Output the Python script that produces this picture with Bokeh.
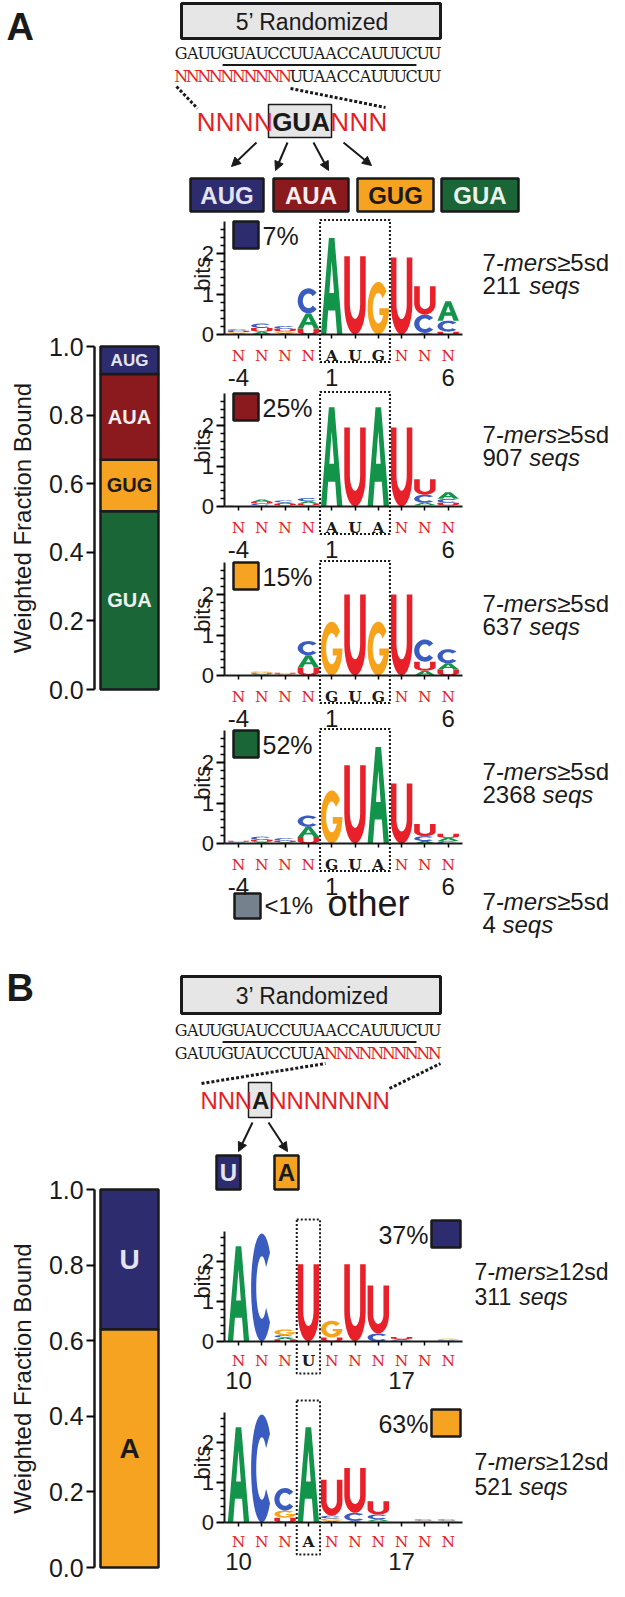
import numpy as np
from bokeh.plotting import figure
from bokeh.models import (Range1d, LinearAxis, FixedTicker, PrintfTickFormatter,
                          ColumnDataSource, Arrow, NormalHead)
from bokeh.core.properties import value
from bokeh.embed import file_html
from bokeh.resources import INLINE

# ======================= DATA =======================
A_CODONS = ["GUA", "GUG", "AUA", "AUG"]          # stacked bottom -> top
A_FRACTIONS = [0.52, 0.15, 0.25, 0.08]
B_BASES = ["A", "U"]
B_FRACTIONS = [0.63, 0.37]
BAR_TICKS = [0.0, 0.2, 0.4, 0.6, 0.8, 1.0]
BAR_AXIS_LABEL = "Weighted Fraction Bound"

SEQ_WT = "GAUUGUAUCCUUAACCAUUUCUU"
SEQ_5R = "NNNNNNNNNNUUAACCAUUUCUU"
SEQ_3R = "GAUUGUAUCCUUANNNNNNNNNN"
CORE_5R = "NNNNGUANNN"
CORE_3R = "NNNANNNNNNN"
A_VARIANTS = ["AUG", "AUA", "GUG", "GUA"]
B_VARIANTS = ["U", "A"]

A_TICK_LABELS = {0: "-4", 4: "1", 9: "6"}
B_TICK_LABELS = {0: "10", 7: "17"}
A_PERCENTS = ["7%", "25%", "15%", "52%"]
A_SEQS = ["211", "907", "637", "2368"]
A_THRESH = "5"
OTHER_PERCENT = "<1%"
OTHER_SEQS = "4"
B_PERCENTS = ["37%", "63%"]
B_SEQS = ["311", "521"]
B_THRESH = "12"

# sequence logos: per position, stacked letters (letter, bits) bottom -> top
LOGO_AUG = [
    [("A", .03), ("G", .03), ("U", .03), ("C", .04)],
    [("A", .07), ("U", .09), ("C", .11)],
    [("A", .04), ("G", .04), ("U", .06), ("C", .07)],
    [("U", .15), ("A", .37), ("C", .62)],
    [("A", 2.38)],
    [("U", 1.93)],
    [("G", 1.30)],
    [("U", 1.90)],
    [("A", .04), ("C", .45), ("U", .70)],
    [("U", .07), ("C", .27), ("A", .48)],
]
LOGO_AUA = [
    [("A", .01), ("C", .01)],
    [("G", .03), ("C", .04), ("U", .04), ("A", .06)],
    [("G", .03), ("U", .03), ("A", .04), ("C", .05)],
    [("G", .03), ("U", .04), ("A", .06), ("C", .08)],
    [("A", 2.45)],
    [("U", 1.95)],
    [("A", 2.45)],
    [("U", 1.95)],
    [("G", .04), ("A", .05), ("C", .20), ("U", .38)],
    [("G", .03), ("U", .06), ("C", .10), ("A", .16)],
]
LOGO_GUG = [
    [("A", .01)],
    [("C", .02), ("A", .02), ("U", .03), ("G", .03)],
    [("C", .02), ("G", .02), ("U", .03)],
    [("U", .20), ("A", .30), ("C", .35)],
    [("G", 1.33)],
    [("U", 2.00)],
    [("G", 1.33)],
    [("U", 2.00)],
    [("A", .12), ("U", .22), ("C", .55)],
    [("U", .15), ("A", .15), ("C", .35)],
]
LOGO_GUA = [
    [("A", .02), ("C", .02), ("U", .03)],
    [("A", .04), ("U", .05), ("C", .08)],
    [("A", .03), ("U", .04), ("C", .06)],
    [("U", .16), ("A", .25), ("C", .28)],
    [("G", 1.31)],
    [("U", 1.93)],
    [("A", 2.38)],
    [("U", 1.48)],
    [("A", .06), ("C", .12), ("U", .30)],
    [("C", .06), ("A", .08), ("U", .10)],
]
LOGO_U = [
    [("A", 2.38)],
    [("C", 2.70)],
    [("U", .05), ("A", .05), ("C", .06), ("G", .14)],
    [("U", 1.93)],
    [("U", .10), ("G", .42)],
    [("U", 1.93)],
    [("C", .20), ("U", 1.20)],
    [("C", .03), ("A", .03), ("U", .05)],
    [("A", .01)],
    [("A", .02), ("C", .02), ("G", .03)],
]
LOGO_A = [
    [("A", 2.38)],
    [("C", 2.70)],
    [("U", .12), ("G", .18), ("C", .56)],
    [("A", 2.38)],
    [("A", .04), ("G", .06), ("C", .07), ("U", .90)],
    [("A", .04), ("C", .20), ("U", 1.12)],
    [("G", .04), ("A", .04), ("C", .12), ("U", .33)],
    [("A", .01)],
    [("A", .02), ("G", .03), ("C", .03)],
    [("A", .02), ("G", .03), ("C", .03)],
]
A_LOGOS = [LOGO_AUG, LOGO_AUA, LOGO_GUG, LOGO_GUA]
B_LOGOS = [LOGO_U, LOGO_A]

# ======================= STYLE / LAYOUT =======================
W, H = 609, 1581
CW, CH = float(W), float(H)
SX = W / CW
SANS = "Liberation Sans"
SERIF = "DejaVu Serif"
INK = "#1a1a1a"
RED = "#e61e25"
BOXGREY = "#e6e6e6"
BASE_COLORS = {"A": "#12954a", "C": "#3a5cc0", "G": "#f6a31b", "U": "#e8202a"}
FILL = {"AUG": "#2d2c6e", "AUA": "#8a1a1d", "GUG": "#f6a321", "GUA": "#1b6636",
        "U": "#2d2c6e", "A": "#f6a321", "other": "#75818d"}
LABEL_INK = {"AUG": "#e4e4f0", "AUA": "#f4f0f0", "GUG": INK, "GUA": "#eef2ee",
             "U": "#e4e4f0", "A": INK}

p = figure(width=W, height=H, x_range=Range1d(0, CW), y_range=Range1d(CH, 0),
           output_backend="svg", toolbar_location=None, min_border=0,
           x_axis_location=None, y_axis_location=None, outline_line_color=None,
           background_fill_color="white", border_fill_color="white")
p.grid.visible = False


def fsz(s):
    return value(f"{s:.1f}px")


def xr(v0, r0, v1, r1):
    k = (v1 - v0) / (r1 - r0)
    return Range1d(start=v0 + (0 - r0) * k, end=v0 + (CW - r0) * k)


def yr(v0, r0, v1, r1):
    k = (v1 - v0) / (r1 - r0)
    return Range1d(start=v0 + (CH - r0) * k, end=v0 + (0 - r0) * k)


def txt(x, y, s, size, color=INK, font=SANS, style="normal", align="center",
        baseline="middle", angle=0.0, xn="default", yn="default"):
    p.text(x=[x], y=[y], text=[s], text_font=value(font), text_font_size=fsz(size),
           text_font_style=style, text_color=color, text_align=align,
           text_baseline=baseline, angle=angle, x_range_name=xn, y_range_name=yn)


AW = {c: 0.556 for c in "0123456789"}
AW.update({" ": 0.278, "-": 0.333, "m": 0.833, "e": 0.556, "r": 0.333, "s": 0.5,
           "d": 0.556, "q": 0.556, "\u2265": 0.549})


def tw(s, size):
    return sum(AW[c] for c in s) * size / SX


def rich(x, y, parts, size):
    for s, st in parts:
        if st is not None:
            txt(x, y, s, size, style=st, align="left")
        x += tw(s, size)


def stats(x, y1, y2, thresh, nseq, size=24):
    rich(x, y1, [("7", "normal"), ("-mers", "italic"), ("\u2265" + thresh + "sd", "normal")], size)
    rich(x, y2, [(nseq, "normal"), (" ", None), ("seqs", "italic")], size)


def seq_row(x0, step, y, s, colors, size, font=SERIF, styles="normal"):
    xs = [x0 + step * (i + 0.5) for i in range(len(s))]
    p.text(x=xs, y=[y] * len(s), text=list(s), text_color=colors, text_font=value(font),
           text_font_size=fsz(size), text_align="center", text_baseline="middle",
           text_font_style=styles)


def box(l, r, t, b, fill, lw=2.5):
    p.quad(left=[l], right=[r], top=[t], bottom=[b], fill_color=fill, line_color=INK, line_width=lw)


def arrow(x0, y0, x1, y1):
    p.add_layout(Arrow(x_start=x0, y_start=y0, x_end=x1, y_end=y1, line_width=2, line_color=INK,
                       end=NormalHead(size=9, fill_color=INK, line_color=INK)))


# ---------- letter outlines (unit box) ----------
def arc(cx, cy, rx, ry, a0, a1, n=30):
    t = np.radians(np.linspace(a0, a1, n))
    return [(cx + rx * np.cos(v), cy + ry * np.sin(v)) for v in t]


GLYPHS = {
    "A": [[(0, 0), (0.37, 1), (0.63, 1), (1, 0), (0.75, 0), (0.665, 0.25), (0.335, 0.25), (0.25, 0)],
          [(0.39, 0.43), (0.61, 0.43), (0.5, 0.76)]],
    "U": [[(0, 1), (0, 0.4)] + arc(0.5, 0.4, 0.5, 0.4, 180, 360) + [(1, 1), (0.74, 1)]
          + arc(0.5, 0.4, 0.24, 0.2, 360, 180) + [(0.26, 1)]],
    "C": [arc(0.5, 0.5, 0.5, 0.5, 40, 320) + arc(0.5, 0.5, 0.26, 0.29, 320, 40)],
    "G": [arc(0.5, 0.5, 0.5, 0.5, 40, 360) + [(0.55, 0.5), (0.55, 0.37), (0.76, 0.37)]
          + arc(0.5, 0.5, 0.26, 0.29, 330, 40)],
}


def logo_polys(stacks):
    xs, ys, cs = [], [], []
    for i, stack in enumerate(stacks):
        base = 0.0
        for ch, h in stack:
            rx_, ry_ = [], []
            for ring in GLYPHS[ch]:
                rx_.append([i - 0.46 + u * 0.92 for u, v in ring])
                ry_.append([base + v * h for u, v in ring])
            xs.append([rx_])
            ys.append([ry_])
            cs.append(BASE_COLORS[ch])
            base += h
    return xs, ys, cs


COL0, COLW = 238.0, 23.3


def draw_logo(key, stacks, zero, ppb, letters, tick_labels, dot_lo, dot_hi, dot_top, dot_bot,
              ymax, n_off, num_standoff):
    xn, yn = key + "_x", key + "_y"
    p.extra_x_ranges[xn] = xr(0, COL0, 1, COL0 + COLW)
    p.extra_y_ranges[yn] = yr(0, zero, 1, zero - ppb)
    xs, ys, cs = logo_polys(stacks)
    p.multi_polygons(xs=xs, ys=ys, fill_color=cs, line_color=None,
                     x_range_name=xn, y_range_name=yn)
    p.quad(left=[dot_lo], right=[dot_hi], top=[dot_top], bottom=[dot_bot], fill_color=None,
           line_color=INK, line_width=2, line_dash="2 2", x_range_name=xn, y_range_name=yn)
    minor = [round(v, 1) for v in np.arange(0.2, ymax, 0.2) if abs(v - round(v)) > 1e-6]
    ya = LinearAxis(x_range_name=xn, y_range_name=yn, fixed_location=-0.62, bounds=(0, ymax),
                    ticker=FixedTicker(ticks=[0, 1, 2], minor_ticks=minor),
                    axis_line_width=2, axis_line_color=INK,
                    major_tick_line_width=2, major_tick_out=8, major_tick_in=0,
                    minor_tick_line_width=1.5, minor_tick_out=4, minor_tick_in=0,
                    major_label_standoff=2, major_label_text_font=SANS,
                    major_label_text_font_size="22px", major_label_text_color=INK)
    p.add_layout(ya, "left")
    overrides = {i: "" for i in range(len(stacks))}
    overrides.update(tick_labels)
    xa = LinearAxis(x_range_name=xn, y_range_name=yn, fixed_location=0, bounds=(-0.62, len(stacks) - 0.4),
                    ticker=FixedTicker(ticks=list(range(len(stacks))), minor_ticks=[]),
                    major_label_overrides=overrides,
                    axis_line_width=2, axis_line_color=INK,
                    major_tick_line_width=1.5, major_tick_out=4, major_tick_in=0,
                    minor_tick_out=0, minor_tick_in=0,
                    major_label_standoff=num_standoff, major_label_text_font=SANS,
                    major_label_text_font_size="24px", major_label_text_color=INK)
    p.add_layout(xa, "below")
    ny = -n_off / ppb
    cols = [RED if c == "N" else INK for c in letters]
    sty = ["normal" if c == "N" else "bold" for c in letters]
    p.text(x=list(range(len(letters))), y=[ny] * len(letters), text=list(letters),
           text_color=cols, text_font=value(SERIF), text_font_size=fsz(15.5),
           text_font_style=sty, text_align="center", text_baseline="middle",
           x_range_name=xn, y_range_name=yn)
    txt(-1.55, 1.5, "bits", 22, angle=np.pi / 2, xn=xn, yn=yn)


def draw_bar(key, cats, fracs, top_px, zero_px, label_sizes):
    xn, yn = key + "_x", key + "_y"
    p.extra_x_ranges[xn] = xr(0, 129, 1, 187)
    p.extra_y_ranges[yn] = yr(0, zero_px, 1, top_px)
    src = ColumnDataSource({"x": [0], **{c: [f] for c, f in zip(cats, fracs)}})
    p.vbar_stack(cats, x="x", width=1, source=src, fill_color=[FILL[c] for c in cats],
                 line_color=INK, line_width=2.5, x_range_name=xn, y_range_name=yn)
    fr = np.array(fracs)
    mids = np.cumsum(fr) - fr / 2
    for c, m in zip(cats, mids):
        txt(0, m, c, label_sizes[c], color=LABEL_INK[c], style="bold", xn=xn, yn=yn)
    ax = LinearAxis(x_range_name=xn, y_range_name=yn, fixed_location=-0.6, bounds=(0, 1),
                    ticker=FixedTicker(ticks=BAR_TICKS, minor_ticks=[]),
                    formatter=PrintfTickFormatter(format="%.1f"),
                    axis_line_width=2.5, axis_line_color=INK,
                    major_tick_line_width=2, major_tick_out=8, major_tick_in=0,
                    minor_tick_out=0, minor_tick_in=0, major_label_standoff=3,
                    major_label_text_font=SANS, major_label_text_font_size="25px",
                    major_label_text_color=INK)
    p.add_layout(ax, "left")
    txt(22, (top_px + zero_px) / 2, BAR_AXIS_LABEL, 24, angle=np.pi / 2)


STEP = (440 - 175) / 23.0

# ======================= PANEL A =======================
txt(6, 26, "A", 38, style="bold", align="left")
box(181, 440, 3, 38, BOXGREY, lw=3)
txt(312, 21, "5\u2019 Randomized", 23)
seq_row(175, STEP, 53, SEQ_WT, [INK] * len(SEQ_WT), 16)
p.segment(x0=[175 + 4 * STEP + 1], y0=[64.5], x1=[175 + 21 * STEP - 1], y1=[64.5],
          line_width=2, line_color=INK)
seq_row(175, STEP, 76, SEQ_5R, [RED if c == "N" else INK for c in SEQ_5R], 16)
p.segment(x0=[176, 290], y0=[86, 88], x1=[197, 385], y1=[108, 107], line_width=3,
          line_color=INK, line_dash="3 2")
box(268, 331, 104, 137, BOXGREY, lw=1.5)
seq_row(196, 19.1, 121, CORE_5R, [RED if c == "N" else INK for c in CORE_5R], 26,
        font=SANS, styles=["normal" if c == "N" else "bold" for c in CORE_5R])
for a in [(256, 142, 231, 166), (287, 142, 275, 170), (313, 142, 328, 170), (343, 142, 371, 165)]:
    arrow(*a)
for v, l, r in zip(A_VARIANTS, [190, 273, 357, 441], [263, 348, 433, 518]):
    box(l, r, 178, 211, FILL[v])
    txt((l + r) / 2, 195, v, 24, color=LABEL_INK[v], style="bold")

draw_bar("barA", A_CODONS, A_FRACTIONS, 346, 689, {"GUA": 20, "GUG": 20, "AUA": 20, "AUG": 17})

A_ZERO = [334, 506, 675, 843]
for k, (site, stacks, pct, nseq, z) in enumerate(zip(A_VARIANTS, A_LOGOS, A_PERCENTS, A_SEQS, A_ZERO)):
    draw_logo(f"la{k}", stacks, z, 40.5, "NNNN" + site + "NNN", A_TICK_LABELS,
              3.5, 6.5, 2.83, -0.68, 2.8, 21, 30)
    box(233, 258, z - 113, z - 86, FILL[site])
    txt(262, z - 99, pct, 25, align="left")
    stats(482, z - 72, z - 49, A_THRESH, nseq)

box(234, 260, 893, 918, FILL["other"])
txt(264, 905, OTHER_PERCENT, 24, align="left")
txt(327, 903, "other", 36, align="left")
stats(482, 901, 924, A_THRESH, OTHER_SEQS)

# ======================= PANEL B =======================
DY = -8
txt(6, 995 + DY, "B", 38, style="bold", align="left")
box(181, 440, 984 + DY, 1021 + DY, BOXGREY, lw=3)
txt(312, 1003 + DY, "3\u2019 Randomized", 23)
seq_row(175, STEP, 1038 + DY, SEQ_WT, [INK] * len(SEQ_WT), 16)
p.segment(x0=[175 + 4 * STEP + 1], y0=[1049.5 + DY], x1=[175 + 21 * STEP - 1], y1=[1049.5 + DY],
          line_width=2, line_color=INK)
seq_row(175, STEP, 1061 + DY, SEQ_3R, [RED if c == "N" else INK for c in SEQ_3R], 16)
p.segment(x0=[201, 389], y0=[1091 + DY, 1096 + DY], x1=[325, 440], y1=[1071 + DY, 1071 + DY],
          line_width=3, line_color=INK, line_dash="3 2")
box(248, 271, 1090 + DY, 1125 + DY, BOXGREY, lw=1.5)
seq_row(200, 17.2, 1108 + DY, CORE_3R, [RED if c == "N" else INK for c in CORE_3R], 24,
        font=SANS, styles=["normal" if c == "N" else "bold" for c in CORE_3R])
arrow(252, 1130 + DY, 238, 1159 + DY)
arrow(268, 1130 + DY, 287, 1159 + DY)
for v, l, r in zip(B_VARIANTS, [216, 274], [240, 298]):
    box(l, r, 1163 + DY, 1197 + DY, FILL[v])
    txt((l + r) / 2, 1180 + DY, v, 24, color=LABEL_INK[v], style="bold")

draw_bar("barB", B_BASES, B_FRACTIONS, 1189, 1567, {"A": 28, "U": 28})

B_ZERO = [1341, 1522]
B_SQ_TOP = [1220, 1409]
B_STATS_Y = [1271, 1461]
for k, (base, stacks, pct, nseq, z, sq, sy) in enumerate(
        zip(B_VARIANTS, B_LOGOS, B_PERCENTS, B_SEQS, B_ZERO, B_SQ_TOP, B_STATS_Y)):
    draw_logo(f"lb{k}", stacks, z, 40, "NNN" + base + "NNNNNN", B_TICK_LABELS,
              2.5, 3.5, 3.05, -0.8, 2.75, 19, 26)
    box(431, 460, sq, sq + 27, FILL[base])
    txt(428, sq + 14, pct, 25, align="right")
    stats(474, sy, sy + 25, B_THRESH, nseq, size=23)

open("out.html", "w").write(file_html(p, INLINE))
